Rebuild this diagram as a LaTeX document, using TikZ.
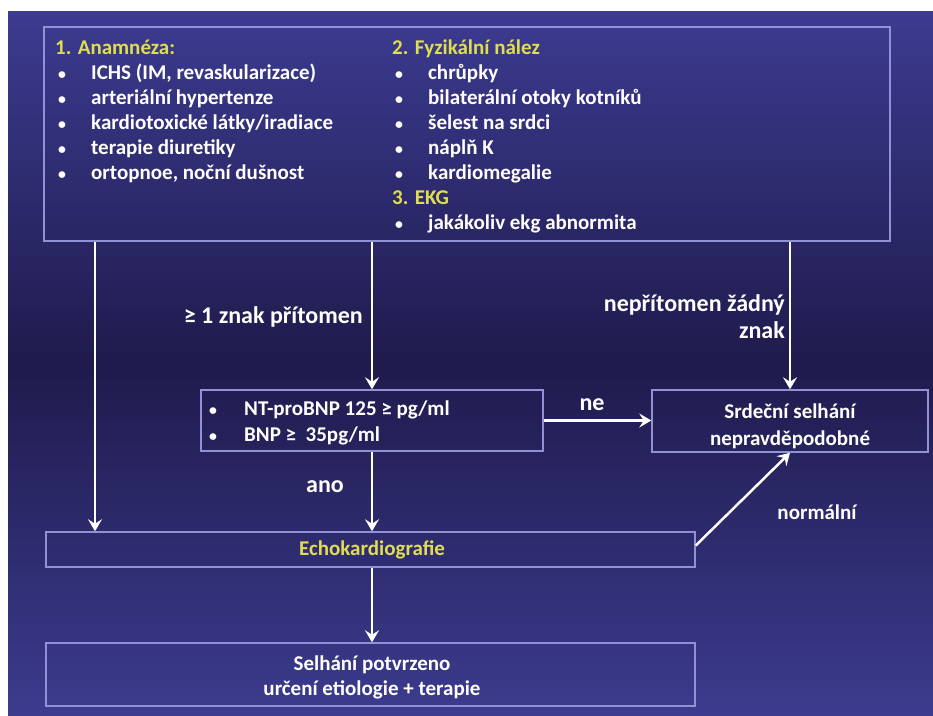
\documentclass[tikz,border=0pt]{standalone}
\usepackage{fontspec}
\setmainfont{Carlito}
\usetikzlibrary{arrows.meta}
\definecolor{bgtop}{HTML}{3C3B90}
\definecolor{bgmid}{HTML}{1F1B4D}
\definecolor{bgbot}{HTML}{3C3B8E}
\definecolor{boxline}{HTML}{9290D6}
\definecolor{ylw}{HTML}{DEDE50}
\newcommand{\smbul}{\scalebox{0.75}{\textbullet}}
\newcommand{\bulA}[1]{\makebox[36pt][l]{\hspace{3pt}\smbul}#1}
\newcommand{\bulC}[1]{\makebox[41pt][l]{\hspace{6pt}\smbul}#1}
\begin{document}
\begin{tikzpicture}[x=1pt,y=-1pt,
  every node/.style={font=\fontsize{21}{25}\selectfont\bfseries, text=white},
  boxx/.style={draw=boxline, line width=1.5pt, inner sep=0pt},
  arr/.style={draw=white, line width=2.5pt, -{Stealth[length=12pt,width=14pt,inset=4.5pt]}},
  lbl/.style={inner sep=0pt},
  biglbl/.style={inner sep=0pt, font=\fontsize{24}{27}\selectfont\bfseries}]
\useasboundingbox (0,0) rectangle (933,715);
\shade[top color=bgtop, bottom color=bgbot, middle color=bgmid] (8,11) rectangle (933,715);
% boxes
\node[boxx, minimum width=846pt, minimum height=214pt] (top) at (467,134) {};
\node[boxx, minimum width=342pt, minimum height=61pt] (nt) at (372,420.5) {};
\node[boxx, minimum width=276pt, minimum height=62pt] (srd) at (790,421) {};
\node[boxx, minimum width=649pt, minimum height=35pt] (echo) at (370.5,549.5) {};
\node[boxx, minimum width=649pt, minimum height=63pt] (sel) at (370.5,674.5) {};
% texts
\node[lbl, anchor=north west, align=left] (col1) at (55,40) {%
{\color{ylw}1. Anamnéza:}\\
\bulA{ICHS (IM, revaskularizace)}\\
\bulA{arteriální hypertenze}\\
\bulA{kardiotoxické látky/iradiace}\\
\bulA{terapie diuretiky}\\
\bulA{ortopnoe, noční dušnost}};
\node[lbl, anchor=north west, align=left] (col2) at (392,40) {%
{\color{ylw}2. Fyzikální nález}\\
\bulA{chrůpky}\\
\bulA{bilaterální otoky kotníků}\\
\bulA{šelest na srdci}\\
\bulA{náplň K}\\
\bulA{kardiomegalie}\\
{\color{ylw}3. EKG}\\
\bulA{jakákoliv ekg abnormita}};
\node[lbl, anchor=north west, align=left, font=\fontsize{21}{26}\selectfont\bfseries] (nttext) at (203,401) {%
\bulC{NT-proBNP 125 ≥ pg/ml}\\
\bulC{BNP ≥ \ 35pg/ml}};
\node[lbl, align=center, font=\fontsize{21}{27}\selectfont\bfseries] (srdtext) at (790,426) {Srdeční selhání\\nepravděpodobné};
\node[lbl, text=ylw] (echotext) at (372,550) {Echokardiografie};
\node[lbl, align=center] (seltext) at (372,677) {Selhání potvrzeno\\určení etiologie + terapie};
% labels
\node[biglbl, anchor=east] (l1) at (363,317) {≥ 1 znak přítomen};
\node[biglbl, anchor=east, align=right] (l2) at (785,317) {nepřítomen žádný\\znak};
\node[biglbl] (l3) at (592,405) {ne};
\node[biglbl] (l4) at (325,487) {ano};
\node[lbl] (l5) at (817,512) {normální};
% connectors
\coordinate (xl) at (95,0);
\draw[arr] (top.south -| xl) -- (echo.north -| xl);
\draw[arr] (top.south -| nt.north) -- (nt.north);
\draw[arr] (top.south -| srd.north) -- (srd.north);
\draw[arr] (nt.east) -- (nt.east -| srd.west);
\draw[arr] (nt.south) -- (nt.south |- echo.north);
\draw[arr] ([yshift=4pt]echo.east) -- (srd.south);
\draw[arr] (echo.south -| nt.south) -- (sel.north -| nt.south);
\end{tikzpicture}
\end{document}
